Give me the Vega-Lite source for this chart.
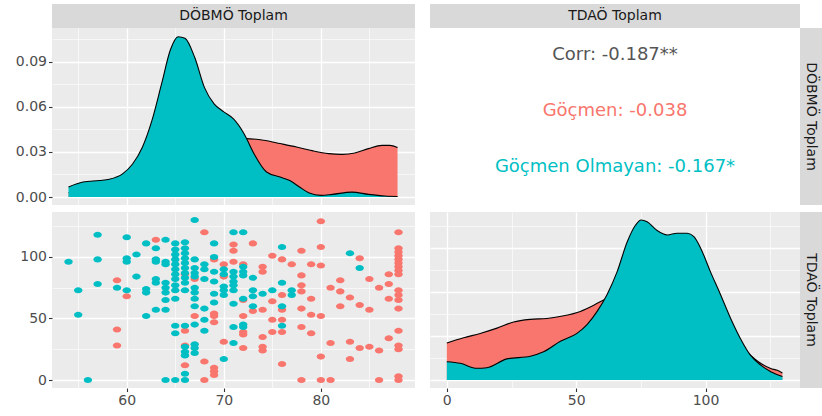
{
  "$schema": "https://vega.github.io/schema/vega-lite/v6.json",
  "padding": {"left": 0, "right": 0, "top": 4, "bottom": 0},
  "background": "white",
  "columns": 3,
  "spacing": 0,
  "config": {
    "view": {"stroke": null},
    "axis": {"domain": false, "title": null, "labelFont": "DejaVu Sans", "labelFontSize": 14, "labelColor": "#4D4D4D", "tickColor": "#333333", "tickSize": 3.5, "tickWidth": 1.1, "gridColor": "#FFFFFF", "labelPadding": 2},
    "text": {"font": "DejaVu Sans"}
  },
  "datasets": {
    "dtl": [
      {"x":54,"y":0.003,"g":"Göçmen"},{"x":56,"y":0.004,"g":"Göçmen"},{"x":58,"y":0.006,"g":"Göçmen"},{"x":60,"y":0.009,"g":"Göçmen"},{"x":62,"y":0.013,"g":"Göçmen"},{"x":64,"y":0.018,"g":"Göçmen"},{"x":66,"y":0.024,"g":"Göçmen"},{"x":68,"y":0.030,"g":"Göçmen"},{"x":70,"y":0.035,"g":"Göçmen"},{"x":71,"y":0.037,"g":"Göçmen"},{"x":72.2,"y":0.0389,"g":"Göçmen"},{"x":74.1,"y":0.0378,"g":"Göçmen"},{"x":75.8,"y":0.0356,"g":"Göçmen"},{"x":77.5,"y":0.0333,"g":"Göçmen"},{"x":79.2,"y":0.0307,"g":"Göçmen"},{"x":80.8,"y":0.0289,"g":"Göçmen"},{"x":82.2,"y":0.0284,"g":"Göçmen"},{"x":83.5,"y":0.0293,"g":"Göçmen"},{"x":84.9,"y":0.0322,"g":"Göçmen"},{"x":86.3,"y":0.0344,"g":"Göçmen"},{"x":87.1,"y":0.0344,"g":"Göçmen"},{"x":87.9,"y":0.0329,"g":"Göçmen"},
      {"x":54,"y":0.0067,"g":"Göçmen Olmayan"},{"x":55.5,"y":0.010,"g":"Göçmen Olmayan"},{"x":57.2,"y":0.011,"g":"Göçmen Olmayan"},{"x":58.2,"y":0.0118,"g":"Göçmen Olmayan"},{"x":59.6,"y":0.0156,"g":"Göçmen Olmayan"},{"x":60.6,"y":0.022,"g":"Göçmen Olmayan"},{"x":61.6,"y":0.033,"g":"Göçmen Olmayan"},{"x":62.6,"y":0.051,"g":"Göçmen Olmayan"},{"x":63.6,"y":0.0756,"g":"Göçmen Olmayan"},{"x":64.5,"y":0.098,"g":"Göçmen Olmayan"},{"x":65.3,"y":0.1067,"g":"Göçmen Olmayan"},{"x":66.0,"y":0.1056,"g":"Göçmen Olmayan"},{"x":67.0,"y":0.093,"g":"Göçmen Olmayan"},{"x":68.0,"y":0.073,"g":"Göçmen Olmayan"},{"x":69.0,"y":0.062,"g":"Göçmen Olmayan"},{"x":70.0,"y":0.0567,"g":"Göçmen Olmayan"},{"x":71.0,"y":0.052,"g":"Göçmen Olmayan"},{"x":72.1,"y":0.042,"g":"Göçmen Olmayan"},{"x":73.1,"y":0.029,"g":"Göçmen Olmayan"},{"x":74.4,"y":0.0167,"g":"Göçmen Olmayan"},{"x":75.8,"y":0.0133,"g":"Göçmen Olmayan"},{"x":76.8,"y":0.011,"g":"Göçmen Olmayan"},{"x":77.8,"y":0.0067,"g":"Göçmen Olmayan"},{"x":78.8,"y":0.0027,"g":"Göçmen Olmayan"},{"x":80.0,"y":0.0011,"g":"Göçmen Olmayan"},{"x":81.2,"y":0.0018,"g":"Göçmen Olmayan"},{"x":83.2,"y":0.0033,"g":"Göçmen Olmayan"},{"x":84.9,"y":0.0018,"g":"Göçmen Olmayan"},{"x":86.6,"y":0.0007,"g":"Göçmen Olmayan"},{"x":87.9,"y":0.0004,"g":"Göçmen Olmayan"}
    ],
    "dbr": [
      {"x":0,"y":0.0042,"g":"Göçmen"},{"x":6.5,"y":0.0048,"g":"Göçmen"},{"x":12.9,"y":0.0053,"g":"Göçmen"},{"x":19.4,"y":0.0059,"g":"Göçmen"},{"x":25.8,"y":0.0066,"g":"Göçmen"},{"x":32.3,"y":0.0069,"g":"Göçmen"},{"x":38.7,"y":0.0070,"g":"Göçmen"},{"x":45.2,"y":0.0073,"g":"Göçmen"},{"x":51.6,"y":0.0078,"g":"Göçmen"},{"x":56.8,"y":0.0085,"g":"Göçmen"},{"x":60.6,"y":0.0091,"g":"Göçmen"},{"x":65,"y":0.0094,"g":"Göçmen"},{"x":70,"y":0.0095,"g":"Göçmen"},{"x":80,"y":0.0092,"g":"Göçmen"},{"x":90,"y":0.0086,"g":"Göçmen"},{"x":100,"y":0.0074,"g":"Göçmen"},{"x":110,"y":0.0052,"g":"Göçmen"},{"x":116,"y":0.0032,"g":"Göçmen"},{"x":121.3,"y":0.0019,"g":"Göçmen"},{"x":125.2,"y":0.0013,"g":"Göçmen"},{"x":127.7,"y":0.0011,"g":"Göçmen"},{"x":129.7,"y":0.0008,"g":"Göçmen"},
      {"x":0,"y":0.00208,"g":"Göçmen Olmayan"},{"x":5.2,"y":0.0019,"g":"Göçmen Olmayan"},{"x":11.6,"y":0.00133,"g":"Göçmen Olmayan"},{"x":15.5,"y":0.0014,"g":"Göçmen Olmayan"},{"x":23.2,"y":0.0024,"g":"Göçmen Olmayan"},{"x":32.3,"y":0.0027,"g":"Göçmen Olmayan"},{"x":37.4,"y":0.0032,"g":"Göçmen Olmayan"},{"x":43.9,"y":0.0044,"g":"Göçmen Olmayan"},{"x":50.3,"y":0.0053,"g":"Göçmen Olmayan"},{"x":54.2,"y":0.0063,"g":"Göçmen Olmayan"},{"x":58.1,"y":0.0078,"g":"Göçmen Olmayan"},{"x":61.9,"y":0.0097,"g":"Göçmen Olmayan"},{"x":65.8,"y":0.0123,"g":"Göçmen Olmayan"},{"x":69.7,"y":0.0157,"g":"Göçmen Olmayan"},{"x":72.9,"y":0.0176,"g":"Göçmen Olmayan"},{"x":75.1,"y":0.0182,"g":"Göçmen Olmayan"},{"x":77.4,"y":0.0180,"g":"Göçmen Olmayan"},{"x":81.3,"y":0.0170,"g":"Göçmen Olmayan"},{"x":85.2,"y":0.0165,"g":"Göçmen Olmayan"},{"x":89.0,"y":0.0167,"g":"Göçmen Olmayan"},{"x":92.9,"y":0.0167,"g":"Göçmen Olmayan"},{"x":95.5,"y":0.0163,"g":"Göçmen Olmayan"},{"x":98.1,"y":0.0150,"g":"Göçmen Olmayan"},{"x":101.9,"y":0.0123,"g":"Göçmen Olmayan"},{"x":105.8,"y":0.0097,"g":"Göçmen Olmayan"},{"x":109.7,"y":0.0070,"g":"Göçmen Olmayan"},{"x":113.5,"y":0.0047,"g":"Göçmen Olmayan"},{"x":117.4,"y":0.0028,"g":"Göçmen Olmayan"},{"x":121.3,"y":0.0017,"g":"Göçmen Olmayan"},{"x":125.2,"y":0.00095,"g":"Göçmen Olmayan"},{"x":129.7,"y":0.0004,"g":"Göçmen Olmayan"}
    ],
    "pts": [
      {"x":59,"y":81,"g":"Göçmen"},{"x":59,"y":41,"g":"Göçmen"},{"x":59,"y":28,"g":"Göçmen"},{"x":60,"y":68,"g":"Göçmen"},{"x":63,"y":114,"g":"Göçmen"},
      {"x":66,"y":86,"g":"Göçmen"},{"x":66,"y":40,"g":"Göçmen"},{"x":66,"y":28,"g":"Göçmen"},{"x":66,"y":12,"g":"Göçmen"},
      {"x":67,"y":82,"g":"Göçmen"},{"x":67,"y":52,"g":"Göçmen"},{"x":68,"y":120,"g":"Göçmen"},{"x":68,"y":15,"g":"Göçmen"},{"x":68,"y":0,"g":"Göçmen"},
      {"x":69,"y":98,"g":"Göçmen"},{"x":69,"y":54,"g":"Göçmen"},{"x":69,"y":52,"g":"Göçmen"},{"x":69,"y":47,"g":"Göçmen"},{"x":69,"y":10,"g":"Göçmen"},{"x":69,"y":7,"g":"Göçmen"},{"x":69,"y":4,"g":"Göçmen"},
      {"x":70,"y":94,"g":"Göçmen"},{"x":70,"y":84,"g":"Göçmen"},{"x":70,"y":31,"g":"Göçmen"},
      {"x":71,"y":110,"g":"Göçmen"},{"x":71,"y":105,"g":"Göçmen"},{"x":71,"y":96,"g":"Göçmen"},
      {"x":72,"y":94,"g":"Göçmen"},{"x":72,"y":65,"g":"Göçmen"},{"x":72,"y":52,"g":"Göçmen"},{"x":72,"y":39,"g":"Göçmen"},{"x":72,"y":37,"g":"Göçmen"},{"x":72,"y":26,"g":"Göçmen"},
      {"x":73,"y":111,"g":"Göçmen"},{"x":73,"y":56,"g":"Göçmen"},
      {"x":74,"y":92,"g":"Göçmen"},{"x":74,"y":88,"g":"Göçmen"},{"x":74,"y":57,"g":"Göçmen"},{"x":74,"y":35,"g":"Göçmen"},{"x":74,"y":27,"g":"Göçmen"},{"x":74,"y":24,"g":"Göçmen"},
      {"x":75,"y":101,"g":"Göçmen"},{"x":75,"y":64,"g":"Göçmen"},{"x":75,"y":49,"g":"Göçmen"},{"x":75,"y":39,"g":"Göçmen"},
      {"x":76,"y":98,"g":"Göçmen"},{"x":76,"y":69,"g":"Göçmen"},{"x":76,"y":57,"g":"Göçmen"},{"x":76,"y":49,"g":"Göçmen"},{"x":76,"y":39,"g":"Göçmen"},{"x":76,"y":13,"g":"Göçmen"},
      {"x":77,"y":94,"g":"Göçmen"},
      {"x":78,"y":105,"g":"Göçmen"},{"x":78,"y":85,"g":"Göçmen"},{"x":78,"y":77,"g":"Göçmen"},{"x":78,"y":72,"g":"Göçmen"},{"x":78,"y":58,"g":"Göçmen"},{"x":78,"y":43,"g":"Göçmen"},{"x":78,"y":0,"g":"Göçmen"},
      {"x":79,"y":94,"g":"Göçmen"},{"x":79,"y":66,"g":"Göçmen"},{"x":79,"y":53,"g":"Göçmen"},{"x":79,"y":38,"g":"Göçmen"},
      {"x":80,"y":129,"g":"Göçmen"},{"x":80,"y":108,"g":"Göçmen"},{"x":80,"y":93,"g":"Göçmen"},{"x":80,"y":52,"g":"Göçmen"},{"x":80,"y":19,"g":"Göçmen"},{"x":80,"y":0,"g":"Göçmen"},
      {"x":81,"y":75,"g":"Göçmen"},{"x":81,"y":30,"g":"Göçmen"},{"x":81,"y":0,"g":"Göçmen"},
      {"x":82,"y":81,"g":"Göçmen"},{"x":82,"y":72,"g":"Göçmen"},{"x":82,"y":60,"g":"Göçmen"},
      {"x":83,"y":67,"g":"Göçmen"},{"x":83,"y":31,"g":"Göçmen"},{"x":83,"y":17,"g":"Göçmen"},
      {"x":84,"y":99,"g":"Göçmen"},{"x":84,"y":61,"g":"Göçmen"},{"x":84,"y":26,"g":"Göçmen"},
      {"x":85,"y":82,"g":"Göçmen"},{"x":85,"y":57,"g":"Göçmen"},{"x":85,"y":27,"g":"Göçmen"},
      {"x":86,"y":75,"g":"Göçmen"},{"x":86,"y":24,"g":"Göçmen"},{"x":86,"y":0,"g":"Göçmen"},
      {"x":87,"y":86,"g":"Göçmen"},{"x":87,"y":78,"g":"Göçmen"},{"x":87,"y":66,"g":"Göçmen"},{"x":87,"y":34,"g":"Göçmen"},
      {"x":88,"y":120,"g":"Göçmen"},{"x":88,"y":107,"g":"Göçmen"},{"x":88,"y":104,"g":"Göçmen"},{"x":88,"y":101,"g":"Göçmen"},{"x":88,"y":98,"g":"Göçmen"},{"x":88,"y":95,"g":"Göçmen"},{"x":88,"y":92,"g":"Göçmen"},{"x":88,"y":89,"g":"Göçmen"},{"x":88,"y":86,"g":"Göçmen"},{"x":88,"y":73,"g":"Göçmen"},{"x":88,"y":69,"g":"Göçmen"},{"x":88,"y":65,"g":"Göçmen"},{"x":88,"y":58,"g":"Göçmen"},{"x":88,"y":40,"g":"Göçmen"},{"x":88,"y":28,"g":"Göçmen"},{"x":88,"y":25,"g":"Göçmen"},{"x":88,"y":3,"g":"Göçmen"},{"x":88,"y":0,"g":"Göçmen"},
      {"x":54,"y":96,"g":"Göçmen Olmayan"},{"x":55,"y":73,"g":"Göçmen Olmayan"},{"x":55,"y":53,"g":"Göçmen Olmayan"},{"x":56,"y":0,"g":"Göçmen Olmayan"},
      {"x":57,"y":118,"g":"Göçmen Olmayan"},{"x":57,"y":98,"g":"Göçmen Olmayan"},{"x":57,"y":78,"g":"Göçmen Olmayan"},{"x":59,"y":75,"g":"Göçmen Olmayan"},
      {"x":60,"y":116,"g":"Göçmen Olmayan"},{"x":60,"y":99,"g":"Göçmen Olmayan"},{"x":60,"y":96,"g":"Göçmen Olmayan"},{"x":60,"y":73,"g":"Göçmen Olmayan"},
      {"x":61,"y":102,"g":"Göçmen Olmayan"},{"x":61,"y":84,"g":"Göçmen Olmayan"},
      {"x":62,"y":111,"g":"Göçmen Olmayan"},{"x":62,"y":74,"g":"Göçmen Olmayan"},{"x":62,"y":71,"g":"Göçmen Olmayan"},{"x":62,"y":52,"g":"Göçmen Olmayan"},
      {"x":63,"y":107,"g":"Göçmen Olmayan"},{"x":63,"y":98,"g":"Göçmen Olmayan"},{"x":63,"y":96,"g":"Göçmen Olmayan"},{"x":63,"y":82,"g":"Göçmen Olmayan"},{"x":63,"y":79,"g":"Göçmen Olmayan"},{"x":63,"y":57,"g":"Göçmen Olmayan"},
      {"x":64,"y":114,"g":"Göçmen Olmayan"},{"x":64,"y":96,"g":"Göçmen Olmayan"},{"x":64,"y":94,"g":"Göçmen Olmayan"},{"x":64,"y":79,"g":"Göçmen Olmayan"},{"x":64,"y":75,"g":"Göçmen Olmayan"},{"x":64,"y":71,"g":"Göçmen Olmayan"},{"x":64,"y":65,"g":"Göçmen Olmayan"},{"x":64,"y":57,"g":"Göçmen Olmayan"},{"x":64,"y":0,"g":"Göçmen Olmayan"},
      {"x":65,"y":111,"g":"Göçmen Olmayan"},{"x":65,"y":106,"g":"Göçmen Olmayan"},{"x":65,"y":102,"g":"Göçmen Olmayan"},{"x":65,"y":98,"g":"Göçmen Olmayan"},{"x":65,"y":94,"g":"Göçmen Olmayan"},{"x":65,"y":90,"g":"Göçmen Olmayan"},{"x":65,"y":86,"g":"Göçmen Olmayan"},{"x":65,"y":82,"g":"Göçmen Olmayan"},{"x":65,"y":77,"g":"Göçmen Olmayan"},{"x":65,"y":73,"g":"Göçmen Olmayan"},{"x":65,"y":66,"g":"Göçmen Olmayan"},{"x":65,"y":44,"g":"Göçmen Olmayan"},{"x":65,"y":38,"g":"Göçmen Olmayan"},{"x":65,"y":0,"g":"Göçmen Olmayan"},
      {"x":66,"y":112,"g":"Göçmen Olmayan"},{"x":66,"y":107,"g":"Göçmen Olmayan"},{"x":66,"y":103,"g":"Göçmen Olmayan"},{"x":66,"y":99,"g":"Göçmen Olmayan"},{"x":66,"y":95,"g":"Göçmen Olmayan"},{"x":66,"y":91,"g":"Göçmen Olmayan"},{"x":66,"y":87,"g":"Göçmen Olmayan"},{"x":66,"y":83,"g":"Göçmen Olmayan"},{"x":66,"y":79,"g":"Göçmen Olmayan"},{"x":66,"y":73,"g":"Göçmen Olmayan"},{"x":66,"y":44,"g":"Göçmen Olmayan"},{"x":66,"y":27,"g":"Göçmen Olmayan"},{"x":66,"y":23,"g":"Göçmen Olmayan"},{"x":66,"y":20,"g":"Göçmen Olmayan"},{"x":66,"y":5,"g":"Göçmen Olmayan"},{"x":66,"y":0,"g":"Göçmen Olmayan"},
      {"x":67,"y":130,"g":"Göçmen Olmayan"},{"x":67,"y":98,"g":"Göçmen Olmayan"},{"x":67,"y":91,"g":"Göçmen Olmayan"},{"x":67,"y":87,"g":"Göçmen Olmayan"},{"x":67,"y":84,"g":"Göçmen Olmayan"},{"x":67,"y":75,"g":"Göçmen Olmayan"},{"x":67,"y":71,"g":"Göçmen Olmayan"},{"x":67,"y":66,"g":"Göçmen Olmayan"},{"x":67,"y":60,"g":"Göçmen Olmayan"},{"x":67,"y":45,"g":"Göçmen Olmayan"},{"x":67,"y":29,"g":"Göçmen Olmayan"},{"x":67,"y":26,"g":"Göçmen Olmayan"},{"x":67,"y":22,"g":"Göçmen Olmayan"},
      {"x":68,"y":94,"g":"Göçmen Olmayan"},{"x":68,"y":90,"g":"Göçmen Olmayan"},{"x":68,"y":82,"g":"Göçmen Olmayan"},{"x":68,"y":58,"g":"Göçmen Olmayan"},{"x":68,"y":49,"g":"Göçmen Olmayan"},{"x":68,"y":40,"g":"Göçmen Olmayan"},
      {"x":69,"y":111,"g":"Göçmen Olmayan"},{"x":69,"y":100,"g":"Göçmen Olmayan"},{"x":69,"y":88,"g":"Göçmen Olmayan"},{"x":69,"y":80,"g":"Göçmen Olmayan"},{"x":69,"y":70,"g":"Göçmen Olmayan"},{"x":69,"y":63,"g":"Göçmen Olmayan"},
      {"x":70,"y":90,"g":"Göçmen Olmayan"},{"x":70,"y":86,"g":"Göçmen Olmayan"},{"x":70,"y":76,"g":"Göçmen Olmayan"},{"x":70,"y":73,"g":"Göçmen Olmayan"},{"x":70,"y":69,"g":"Göçmen Olmayan"},{"x":70,"y":17,"g":"Göçmen Olmayan"},
      {"x":71,"y":120,"g":"Göçmen Olmayan"},{"x":71,"y":88,"g":"Göçmen Olmayan"},{"x":71,"y":84,"g":"Göçmen Olmayan"},{"x":71,"y":80,"g":"Göçmen Olmayan"},{"x":71,"y":77,"g":"Göçmen Olmayan"},{"x":71,"y":73,"g":"Göçmen Olmayan"},{"x":71,"y":62,"g":"Göçmen Olmayan"},{"x":71,"y":43,"g":"Göçmen Olmayan"},{"x":71,"y":30,"g":"Göçmen Olmayan"},
      {"x":72,"y":120,"g":"Göçmen Olmayan"},{"x":72,"y":92,"g":"Göçmen Olmayan"},{"x":72,"y":88,"g":"Göçmen Olmayan"},{"x":72,"y":85,"g":"Göçmen Olmayan"},{"x":72,"y":66,"g":"Göçmen Olmayan"},{"x":72,"y":45,"g":"Göçmen Olmayan"},{"x":72,"y":43,"g":"Göçmen Olmayan"},
      {"x":73,"y":83,"g":"Göçmen Olmayan"},{"x":73,"y":73,"g":"Göçmen Olmayan"},{"x":73,"y":68,"g":"Göçmen Olmayan"},{"x":73,"y":60,"g":"Göçmen Olmayan"},
      {"x":74,"y":70,"g":"Göçmen Olmayan"},{"x":75,"y":73,"g":"Göçmen Olmayan"},
      {"x":76,"y":108,"g":"Göçmen Olmayan"},{"x":76,"y":79,"g":"Göçmen Olmayan"},{"x":76,"y":60,"g":"Göçmen Olmayan"},{"x":76,"y":44,"g":"Göçmen Olmayan"},
      {"x":77,"y":73,"g":"Göçmen Olmayan"},{"x":77,"y":69,"g":"Göçmen Olmayan"},
      {"x":83,"y":103,"g":"Göçmen Olmayan"},{"x":84,"y":91,"g":"Göçmen Olmayan"}
    ]
  },
  "concat": [
    {
      "width": 363, "height": 24,
      "view": {"fill": "#D9D9D9", "stroke": null},
      "data": {"values": [{"label": "DÖBMÖ Toplam"}]},
      "mark": {"type": "text", "fontSize": 14, "color": "#1A1A1A"},
      "encoding": {"text": {"field": "label", "type": "nominal"}}
    },
    {
      "width": 370, "height": 24,
      "view": {"fill": "#D9D9D9", "stroke": null},
      "data": {"values": [{"label": "TDAÖ Toplam"}]},
      "mark": {"type": "text", "fontSize": 14, "color": "#1A1A1A"},
      "encoding": {"text": {"field": "label", "type": "nominal"}}
    },
    {
      "width": 22, "height": 24,
      "view": {"stroke": null},
      "data": {"values": [{"label": ""}]},
      "mark": {"type": "text"},
      "encoding": {"text": {"field": "label", "type": "nominal"}}
    },
    {
      "width": 363, "height": 177,
      "view": {"fill": "#EBEBEB", "stroke": null},
      "data": {"name": "dtl"},
      "encoding": {
        "x": {"field": "x", "type": "quantitative", "scale": {"domain": [52.3, 89.7], "nice": false, "zero": false},
          "axis": {"values": [55,60,65,70,75,80,85], "labels": false, "ticks": false, "grid": true,
            "gridWidth": {"condition": {"test": "datum.value % 10 === 0", "value": 1.3}, "value": 0.6},
            "minExtent": 7, "maxExtent": 7}},
        "y": {"field": "y", "type": "quantitative", "scale": {"domain": [-0.0053, 0.1125], "nice": false, "zero": false},
          "axis": {"values": [0,0.015,0.03,0.045,0.06,0.075,0.09,0.105], "grid": true,
            "gridWidth": {"condition": {"test": "round(datum.value*1000) % 30 === 0", "value": 1.3}, "value": 0.6},
            "tickOpacity": {"condition": {"test": "round(datum.value*1000) % 30 === 0", "value": 1}, "value": 0},
            "labelExpr": "round(datum.value*1000) % 30 === 0 ? format(datum.value, '.2f') : ''",
            "minExtent": 52, "maxExtent": 52}}
      },
      "layer": [
        {"transform": [{"filter": "datum.g === 'Göçmen'"}], "mark": {"type": "area", "color": "#F8766D", "interpolate": "monotone"}, "encoding": {"y2": {"datum": 0}}},
        {"transform": [{"filter": "datum.g === 'Göçmen'"}], "mark": {"type": "line", "color": "#000000", "strokeWidth": 1.1, "interpolate": "monotone"}},
        {"transform": [{"filter": "datum.g !== 'Göçmen'"}], "mark": {"type": "area", "color": "#00BFC4", "interpolate": "monotone"}, "encoding": {"y2": {"datum": 0}}},
        {"transform": [{"filter": "datum.g !== 'Göçmen'"}], "mark": {"type": "line", "color": "#000000", "strokeWidth": 1.1, "interpolate": "monotone"}}
      ]
    },
    {
      "width": 370, "height": 177,
      "view": {"fill": "#FFFFFF", "stroke": null},
      "data": {"values": [
        {"label": "Corr: -0.187**", "g": "Corr"},
        {"label": "Göçmen: -0.038", "g": "Göçmen"},
        {"label": "Göçmen Olmayan: -0.167*", "g": "Göçmen Olmayan"}
      ]},
      "mark": {"type": "text", "fontSize": 18},
      "encoding": {
        "y": {"field": "g", "type": "nominal", "sort": ["Corr", "Göçmen", "Göçmen Olmayan"],
          "scale": {"type": "point", "padding": 0.58, "align": 0.41},
          "axis": {"labels": false, "ticks": false, "grid": false, "minExtent": 15, "maxExtent": 15}},
        "text": {"field": "label", "type": "nominal"},
        "color": {"field": "g", "type": "nominal", "scale": {"domain": ["Corr", "Göçmen", "Göçmen Olmayan"], "range": ["#555555", "#F8766D", "#00BFC4"]}, "legend": null}
      }
    },
    {
      "width": 22, "height": 177,
      "view": {"fill": "#D9D9D9", "stroke": null},
      "data": {"values": [{"label": "DÖBMÖ Toplam"}]},
      "mark": {"type": "text", "fontSize": 14, "color": "#1A1A1A", "angle": 90},
      "encoding": {"text": {"field": "label", "type": "nominal"}}
    },
    {
      "width": 363, "height": 176,
      "view": {"fill": "#EBEBEB", "stroke": null},
      "data": {"name": "pts"},
      "mark": {"type": "point", "shape": "M-1,0A1,0.72 0 1,0 1,0A1,0.72 0 1,0 -1,0Z", "size": 70, "filled": true, "opacity": 1, "strokeWidth": 0},
      "encoding": {
        "x": {"field": "x", "type": "quantitative", "scale": {"domain": [52.3, 89.7], "nice": false, "zero": false},
          "axis": {"values": [55,60,65,70,75,80,85], "grid": true,
            "gridWidth": {"condition": {"test": "datum.value % 10 === 0", "value": 1.3}, "value": 0.6},
            "tickOpacity": {"condition": {"test": "datum.value % 10 === 0", "value": 1}, "value": 0},
            "labelExpr": "datum.value % 10 === 0 ? datum.label : ''"}},
        "y": {"field": "y", "type": "quantitative", "scale": {"domain": [-6.5, 136.5], "nice": false, "zero": false},
          "axis": {"values": [0,25,50,75,100,125], "grid": true,
            "gridWidth": {"condition": {"test": "datum.value % 50 === 0", "value": 1.3}, "value": 0.6},
            "tickOpacity": {"condition": {"test": "datum.value % 50 === 0", "value": 1}, "value": 0},
            "labelExpr": "datum.value % 50 === 0 ? datum.label : ''",
            "minExtent": 52, "maxExtent": 52}},
        "color": {"field": "g", "type": "nominal", "scale": {"domain": ["Göçmen", "Göçmen Olmayan"], "range": ["#F8766D", "#00BFC4"]}, "legend": null}
      }
    },
    {
      "width": 370, "height": 176,
      "view": {"fill": "#EBEBEB", "stroke": null},
      "data": {"name": "dbr"},
      "encoding": {
        "x": {"field": "x", "type": "quantitative", "scale": {"domain": [-6.5, 136.5], "nice": false, "zero": false},
          "axis": {"values": [0,25,50,75,100,125], "grid": true,
            "gridWidth": {"condition": {"test": "datum.value % 50 === 0", "value": 1.3}, "value": 0.6},
            "tickOpacity": {"condition": {"test": "datum.value % 50 === 0", "value": 1}, "value": 0},
            "labelExpr": "datum.value % 50 === 0 ? datum.label : ''"}},
        "y": {"field": "y", "type": "quantitative", "scale": {"domain": [-0.00091, 0.01911], "nice": false, "zero": false},
          "axis": {"values": [0,0.0025,0.005,0.0075,0.01,0.0125,0.015,0.0175], "grid": true, "labels": false, "ticks": false,
            "gridWidth": {"condition": {"test": "round(datum.value*10000) % 50 === 0", "value": 1.3}, "value": 0.6},
            "minExtent": 15, "maxExtent": 15}}
      },
      "layer": [
        {"transform": [{"filter": "datum.g === 'Göçmen'"}], "mark": {"type": "area", "color": "#F8766D", "interpolate": "monotone"}, "encoding": {"y2": {"datum": 0}}},
        {"transform": [{"filter": "datum.g === 'Göçmen'"}], "mark": {"type": "line", "color": "#000000", "strokeWidth": 1.1, "interpolate": "monotone"}},
        {"transform": [{"filter": "datum.g !== 'Göçmen'"}], "mark": {"type": "area", "color": "#00BFC4", "interpolate": "monotone"}, "encoding": {"y2": {"datum": 0}}},
        {"transform": [{"filter": "datum.g !== 'Göçmen'"}], "mark": {"type": "line", "color": "#000000", "strokeWidth": 1.1, "interpolate": "monotone"}}
      ]
    },
    {
      "width": 22, "height": 176,
      "view": {"fill": "#D9D9D9", "stroke": null},
      "data": {"values": [{"label": "TDAÖ Toplam"}]},
      "mark": {"type": "text", "fontSize": 14, "color": "#1A1A1A", "angle": 90},
      "encoding": {"text": {"field": "label", "type": "nominal"}}
    }
  ]
}
